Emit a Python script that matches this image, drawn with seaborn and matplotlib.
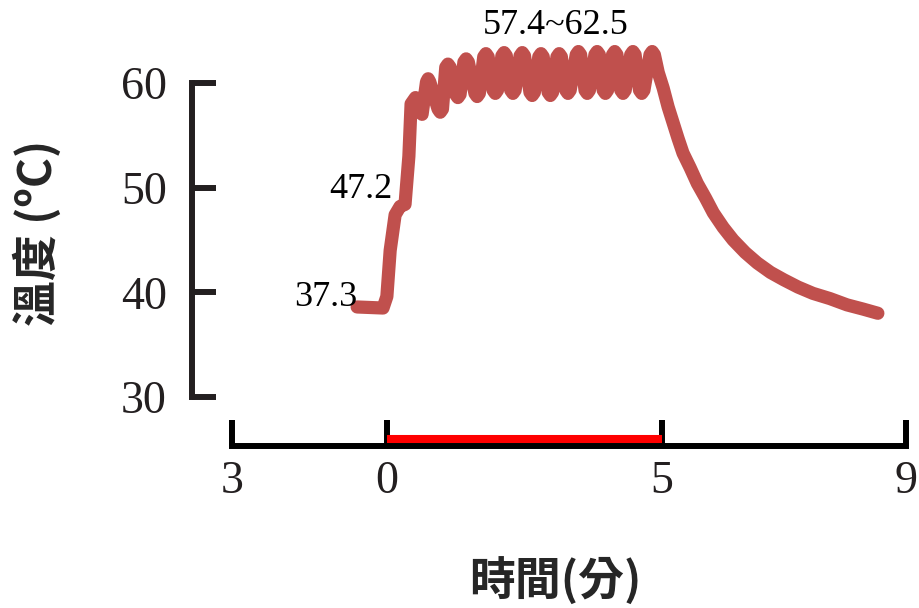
import matplotlib
matplotlib.use("Agg")
import matplotlib.pyplot as plt
import seaborn as sns
import pandas as pd

# temperature trace (minutes, deg C)
# warm-up and steps
rise_t = [-0.54, -0.07, 0.00, 0.06, 0.15, 0.24, 0.33, 0.40, 0.44, 0.52, 0.64]
rise_c = [38.6, 38.5, 39.6, 44.0, 47.4, 48.2, 48.4, 53.0, 58.0, 58.6, 57.0]

# oscillating plateau (peaks / troughs with their shoulders)
osc_t = [0.72, 0.75, 0.78, 0.93, 0.97, 1.01, 1.07, 1.11, 1.15,
         1.25, 1.29, 1.33, 1.40, 1.44, 1.48, 1.60, 1.64, 1.68,
         1.76, 1.80, 1.84, 1.93, 1.97, 2.01, 2.09, 2.13, 2.17,
         2.25, 2.29, 2.33, 2.42, 2.46, 2.50, 2.60, 2.64, 2.68,
         2.76, 2.80, 2.84, 2.93, 2.97, 3.01, 3.09, 3.13, 3.17,
         3.25, 3.29, 3.33, 3.44, 3.48, 3.52, 3.60, 3.64, 3.68,
         3.78, 3.82, 3.86, 3.93, 3.97, 4.01, 4.10, 4.14, 4.18,
         4.25, 4.29, 4.33, 4.43, 4.47, 4.51, 4.59, 4.63, 4.67,
         4.78, 4.82, 4.86]
osc_c = [60.1, 60.4, 60.1, 57.5, 57.2, 57.5, 61.5, 61.8, 61.5,
         58.9, 58.6, 58.9, 62.0, 62.3, 62.0, 59.0, 58.7, 59.0,
         62.5, 62.8, 62.5, 59.3, 59.0, 59.3, 62.6, 62.9, 62.6,
         59.3, 59.0, 59.3, 62.6, 62.9, 62.6, 59.1, 58.8, 59.1,
         62.5, 62.8, 62.5, 59.1, 58.8, 59.1, 62.5, 62.8, 62.5,
         59.3, 59.0, 59.3, 62.7, 63.0, 62.7, 59.3, 59.0, 59.3,
         62.7, 63.0, 62.7, 59.3, 59.0, 59.3, 62.7, 63.0, 62.7,
         59.3, 59.0, 59.3, 62.7, 63.0, 62.7, 59.3, 59.0, 59.3,
         62.7, 63.0, 62.7]

# cool-down after heating stops
cool_t = [4.93, 5.02, 5.11, 5.20, 5.29, 5.38, 5.51, 5.64, 5.79, 5.93,
          6.11, 6.29, 6.51, 6.73, 6.97, 7.21, 7.47, 7.74, 8.05, 8.36,
          8.65, 8.92]
cool_c = [61.0, 59.5, 57.7, 56.2, 54.7, 53.3, 51.9, 50.4, 49.0, 47.6,
          46.2, 45.0, 43.8, 42.8, 41.9, 41.2, 40.5, 39.9, 39.4, 38.8,
          38.4, 38.0]

# heating period bar
heat_start, heat_end = 0, 5

x_tick_pos = [-2.81, 0, 5, 9.43]
x_tick_labels = ["3", "0", "5", "9"]
y_ticks = [30, 40, 50, 60]

notes = ["37.3", "47.2", "57.4~62.5"]
note_x = [-0.54, 0.10, 3.07]
note_y = [39.5, 49.8, 65.5]
note_ha = ["right", "right", "center"]

df = pd.DataFrame({"time": rise_t + osc_t + cool_t,
                   "temp": rise_c + osc_c + cool_c})

sns.set_style("white")
plt.rcParams["font.family"] = ["Liberation Serif", "DejaVu Serif"]

fig = plt.figure(figsize=(9.2, 6.08), dpi=100)
ax = fig.add_axes([0.2087, 0.2661, 0.7826, 0.7008])

sns.lineplot(data=df, x="time", y="temp", ax=ax, color="#C0504D",
             linewidth=9.5, solid_capstyle="round", solid_joinstyle="round",
             estimator=None, sort=False, zorder=3)

ax.plot([heat_start, heat_end], [26.0, 26.0], color="#FF0000",
        linewidth=5.8, solid_capstyle="butt", zorder=2, clip_on=False)

ax.set_xlim(-3.54, 9.54)
ax.set_ylim(25.3, 66.0)

for s in ["top", "right"]:
    ax.spines[s].set_visible(False)
ax.spines["left"].set_bounds(30, 60)
ax.spines["left"].set_linewidth(4.3)
ax.spines["left"].set_color("#231F20")
ax.spines["bottom"].set_bounds(x_tick_pos[0], x_tick_pos[-1])
ax.spines["bottom"].set_linewidth(4.3)
ax.spines["bottom"].set_color("black")
ax.spines["bottom"].set_zorder(4)

ax.set_yticks(y_ticks)
ax.set_xticks(x_tick_pos)
ax.set_xticklabels(x_tick_labels)
ax.tick_params(axis="y", direction="in", length=17.3, width=4.3,
               color="#231F20", labelsize=33, labelcolor="#231F20", pad=18,
               left=True)
ax.tick_params(axis="x", direction="in", length=18.7, width=4.3,
               color="black", labelsize=33, labelcolor="#231F20", pad=10,
               bottom=True)

for t, x, y, ha in zip(notes, note_x, note_y, note_ha):
    ax.text(x, y, t, fontsize=26, ha=ha, va="center", color="black")

cjk = ["Noto Sans CJK TC", "DejaVu Sans"]
ax.set_xlabel("")
ax.set_ylabel("")
fig.text(555 / 920, 1 - 582 / 608, "時間(分)", family=cjk, fontweight="bold",
         fontsize=33, ha="center", va="center")
fig.text(38 / 920, 1 - 233 / 608, "溫度 (ºC)", family=cjk, fontweight="bold",
         fontsize=33, ha="center", va="center", rotation=90)

fig.savefig("out.png", dpi=100)
